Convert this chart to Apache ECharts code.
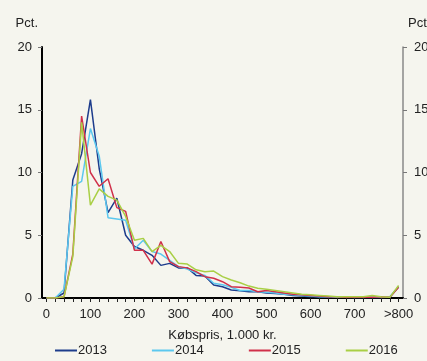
<!DOCTYPE html>
<html><head><meta charset="utf-8">
<script src="https://cdn.jsdelivr.net/npm/echarts@6/dist/echarts.min.js"></script>
<style>html,body{margin:0;padding:0;background:#f5f5ee;}#c{width:427px;height:361px;}</style>
</head><body><div id="c"></div>
<script>
const categories = ['0','20','40','60','80','100','120','140','160','180','200','220','240','260','280','300','320','340','360','380','400','420','440','460','480','500','520','540','560','580','600','620','640','660','680','700','720','740','760','780','>800'];
const yTicks = [0,5,10,15,20];
const s2013 = [0,0,0.4,9.4,11.5,15.8,10.3,6.8,7.95,5.0,4.1,3.8,3.4,2.6,2.76,2.4,2.4,1.8,1.75,1.04,0.9,0.64,0.58,0.5,0.5,0.4,0.35,0.3,0.2,0.15,0.1,0.1,0.05,0.05,0.05,0.03,0.03,0.03,0.03,0.05,0.9];
const s2014 = [0,0,0.7,8.9,9.3,13.5,11.3,6.4,6.3,6.2,3.9,4.6,3.7,3.5,3.0,2.5,2.3,2.0,1.8,1.17,1.05,0.85,0.6,0.6,0.5,0.45,0.4,0.3,0.25,0.2,0.15,0.1,0.1,0.05,0.05,0.05,0.05,0.05,0.05,0.1,0.9];
const s2015 = [0,0,0.1,3.5,14.5,10.0,8.9,9.5,7.2,6.9,3.8,3.8,2.7,4.5,2.9,2.5,2.4,2.1,1.7,1.57,1.3,0.9,0.85,0.8,0.5,0.6,0.5,0.4,0.3,0.25,0.2,0.15,0.1,0.1,0.05,0.05,0.05,0.05,0.1,0.05,0.85];
const s2016 = [0,0,0.1,3.3,14.0,7.4,8.7,8.1,7.8,6.5,4.6,4.75,3.7,4.2,3.7,2.76,2.7,2.25,2.1,2.15,1.7,1.43,1.22,0.95,0.77,0.7,0.6,0.5,0.4,0.3,0.25,0.2,0.15,0.1,0.1,0.1,0.1,0.2,0.1,0.05,1.0];
const names = ['2013','2014','2015','2016'];
const colors = ['#1d3c8c','#5cc8ef','#d0304a','#a9cf45'];
const seriesData = [s2013,s2014,s2015,s2016];

const chart = echarts.init(document.getElementById('c'), null, {renderer:'canvas'});
const font = 'Liberation Sans, Arial, sans-serif';
const yAxisBase = (pos, lineColor, lineWidth) => ({
  type:'value', position:pos, min:0, max:20, interval:5,
  name:'Pct.', nameLocation:'end', nameGap:17,
  nameTextStyle:{color:'#222', fontSize:13, fontFamily:font, align: pos==='left'?'right':'left', padding: pos==='left'?[0,4,0,0]:[0,0,0,5]},
  axisLine:{show:true, lineStyle:{color:lineColor, width:lineWidth}},
  axisTick:{show:true, inside:false, length:4, lineStyle:{color:'#777', width:1}},
  axisLabel:{color:'#222', fontSize:13, fontFamily:font, margin: pos==='left'?10:11},
  splitLine:{show:false}
});
chart.setOption({
  backgroundColor:'#f5f5ee',
  animation:false,
  color:colors,
  grid:{left:42, right:24, top:47, bottom:63, containLabel:false, outerBoundsMode:'none'},
  legend:{
    top:344, left:55, padding:0, itemWidth:22, itemHeight:2, itemGap:45, icon:'rect',
    textStyle:{color:'#222', fontSize:13, fontFamily:font, padding:[0,0,0,-4]},
    data:names
  },
  xAxis:{
    type:'category', data:categories, boundaryGap:true,
    name:'Købspris, 1.000 kr.', nameLocation:'middle', nameGap:31,
    nameTextStyle:{color:'#222', fontSize:13, fontFamily:font},
    axisLine:{show:true, onZero:false, lineStyle:{color:'#000', width:2}},
    axisTick:{show:true, alignWithLabel:true, interval:0, length:4, lineStyle:{color:'#222', width:1}},
    axisLabel:{interval:4, color:'#222', fontSize:13, fontFamily:font, margin:10},
    splitLine:{show:false}
  },
  yAxis:[yAxisBase('left','#000',2), yAxisBase('right','#888',1.5)],
  series: names.map((n,i)=>({
    name:n, type:'line', data:seriesData[i], symbol:'none', yAxisIndex:0,
    lineStyle:{width:1.5, color:colors[i]}, itemStyle:{color:colors[i]}
  }))
});
</script></body></html>
